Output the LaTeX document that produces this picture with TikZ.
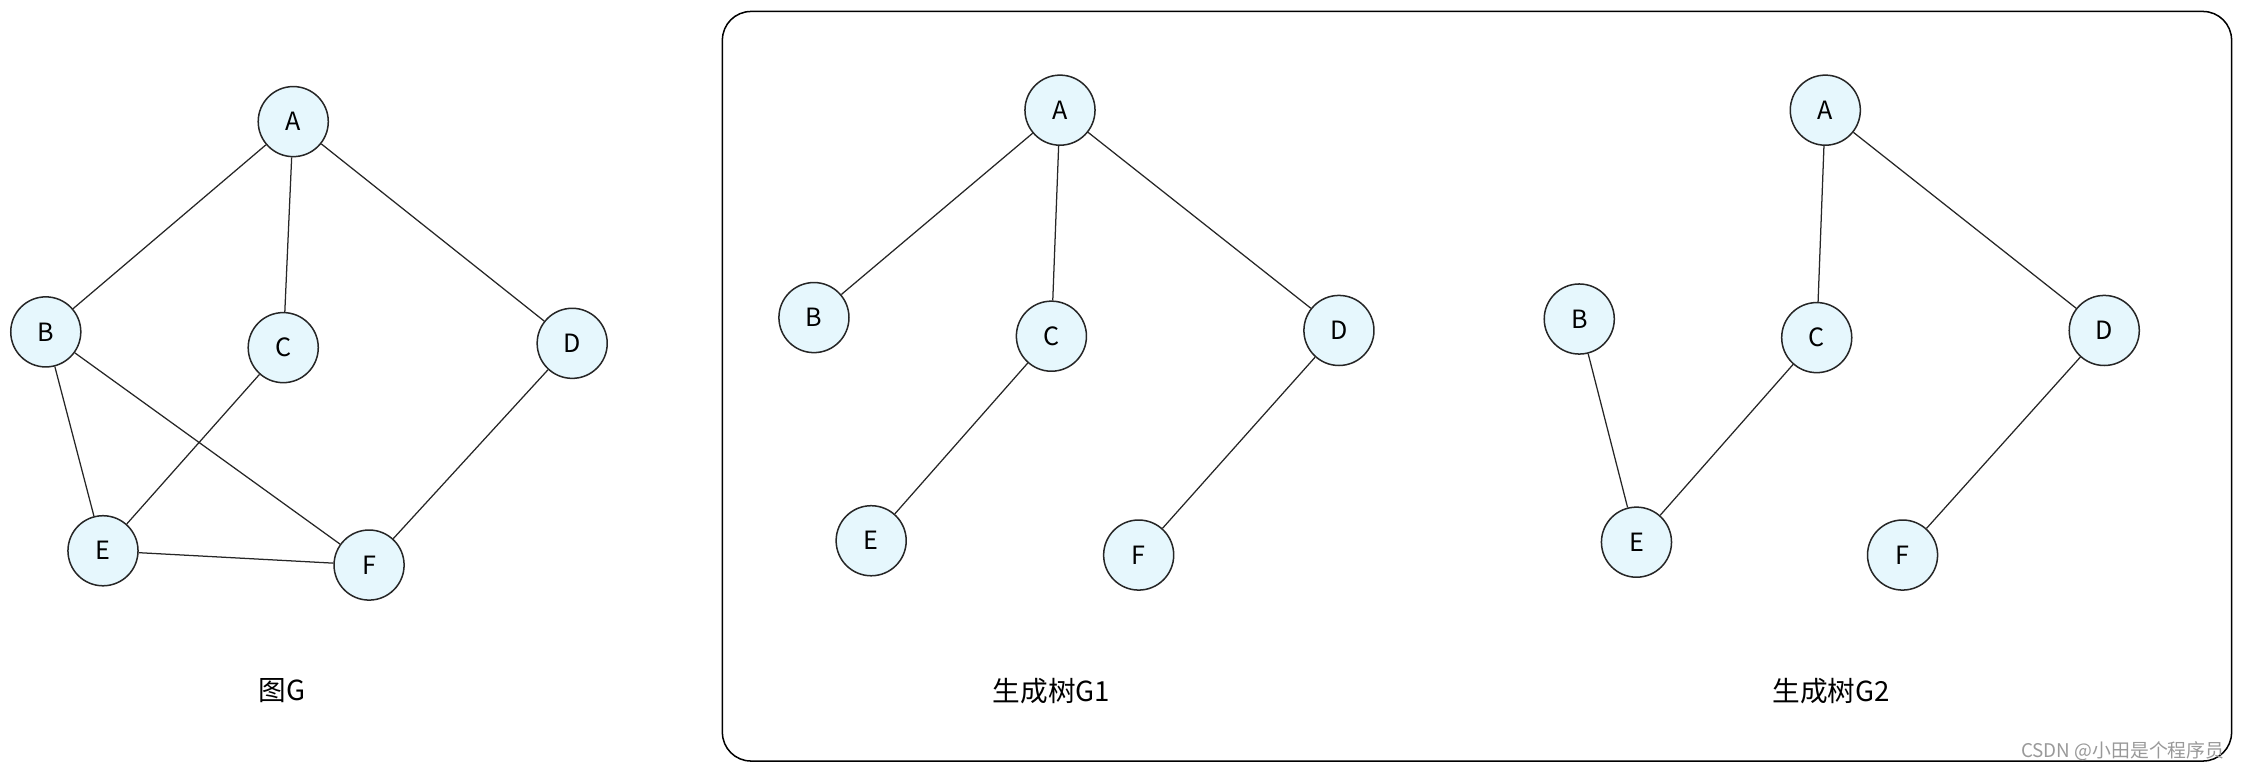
\documentclass[tikz,border=0pt]{standalone}
\usepackage{fontspec}
\setmainfont{Noto Sans CJK SC}
\begin{document}
\begin{tikzpicture}[x=0.02cm,y=-0.02cm,
  vert/.style={circle,draw=black!85,line width=0.6pt,fill=cyan!10,minimum size=0.98cm,inner sep=0pt,font=\fontsize{10}{12}\selectfont},
  edge/.style={draw=black!85,line width=0.5pt},
  captext/.style={font=\fontsize{11}{13}\selectfont}]
\useasboundingbox (0,0) rectangle (1568,539);
\draw[line width=0.6pt,rounded corners=0.4cm] (505,8) rectangle (1560,532);
% G
\node[vert] (ga) at (205,85) {A};
\node[vert] (gb) at (32,232) {B};
\node[vert] (gc) at (198,243) {C};
\node[vert] (gd) at (400,240) {D};
\node[vert] (ge) at (72,385) {E};
\node[vert] (gf) at (258,395) {F};
\draw[edge] (ga)--(gb) (ga)--(gc) (ga)--(gd) (gb)--(ge) (gb)--(gf) (gc)--(ge) (ge)--(gf) (gd)--(gf);
\node[captext] (lg) at (197,483) {图G};
% G1
\node[vert] (a1) at (741,77) {A};
\node[vert] (b1) at (569,222) {B};
\node[vert] (c1) at (735,235) {C};
\node[vert] (d1) at (936,231) {D};
\node[vert] (e1) at (609,378) {E};
\node[vert] (f1) at (796,388) {F};
\draw[edge] (a1)--(b1) (a1)--(c1) (a1)--(d1) (c1)--(e1) (d1)--(f1);
\node[captext] (l1) at (735,483) {生成树G1};
% G2
\node[vert] (a2) at (1276,77) {A};
\node[vert] (b2) at (1104,223) {B};
\node[vert] (c2) at (1270,236) {C};
\node[vert] (d2) at (1471,231) {D};
\node[vert] (e2) at (1144,379) {E};
\node[vert] (f2) at (1330,388) {F};
\draw[edge] (a2)--(c2) (a2)--(d2) (b2)--(e2) (c2)--(e2) (d2)--(f2);
\node[captext] (l2) at (1280,483) {生成树G2};
\node[text=black!40,font=\fontsize{7.5}{9}\selectfont] (wm) at (1484,525) {CSDN @小田是个程序员};
\end{tikzpicture}
\end{document}
